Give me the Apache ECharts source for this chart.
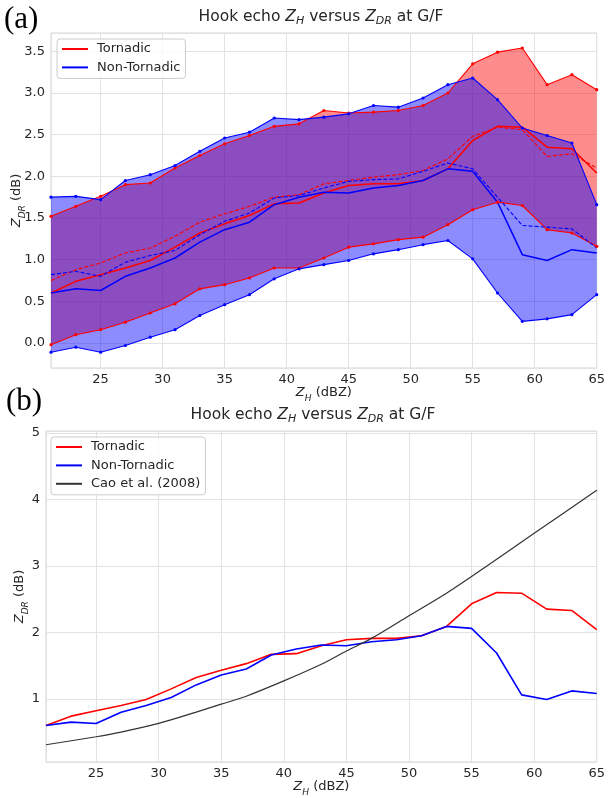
<!DOCTYPE html>
<html>
<head>
<meta charset="utf-8">
<script src="https://cdn.jsdelivr.net/npm/echarts@6/dist/echarts.min.js"></script>
<style>
  html, body { margin: 0; padding: 0; background: #fff; }
  #chart { width: 608px; height: 798px; }
</style>
</head>
<body>
<div id="chart"></div>
<script>
// Reflectivity bins (dBZ)
const zh = [21, 23, 25, 27, 29, 31, 33, 35, 37, 39, 41, 43, 45, 47, 49, 51, 53, 55, 57, 59, 61, 63, 65];

// Tornadic hook-echo ZDR statistics (dB)
const tornUpper  = [1.52, 1.64, 1.76, 1.90, 1.92, 2.10, 2.25, 2.39, 2.49, 2.60, 2.63, 2.79, 2.76, 2.77, 2.79, 2.85, 3.00, 3.35, 3.49, 3.54, 3.10, 3.22, 3.04];
const tornLower  = [-0.02, 0.10, 0.16, 0.25, 0.36, 0.47, 0.65, 0.70, 0.78, 0.90, 0.90, 1.02, 1.15, 1.19, 1.24, 1.27, 1.42, 1.60, 1.69, 1.65, 1.36, 1.32, 1.16];
const tornMedian = [0.60, 0.74, 0.82, 0.90, 0.99, 1.15, 1.32, 1.43, 1.53, 1.67, 1.68, 1.80, 1.89, 1.91, 1.91, 1.95, 2.09, 2.43, 2.60, 2.59, 2.35, 2.33, 2.04];
const tornMean   = [0.75, 0.88, 0.96, 1.08, 1.14, 1.28, 1.45, 1.55, 1.64, 1.75, 1.78, 1.91, 1.95, 1.99, 2.02, 2.07, 2.21, 2.48, 2.59, 2.56, 2.24, 2.27, 2.10];

// Non-tornadic hook-echo ZDR statistics (dB)
const nonUpper  = [1.75, 1.76, 1.72, 1.95, 2.02, 2.13, 2.30, 2.46, 2.53, 2.70, 2.68, 2.71, 2.75, 2.85, 2.83, 2.94, 3.10, 3.18, 2.92, 2.58, 2.49, 2.40, 1.66];
const nonLower  = [-0.11, -0.05, -0.11, -0.03, 0.07, 0.16, 0.33, 0.46, 0.58, 0.77, 0.89, 0.94, 0.99, 1.07, 1.12, 1.18, 1.23, 1.01, 0.60, 0.26, 0.29, 0.34, 0.58];
const nonMedian = [0.60, 0.65, 0.63, 0.80, 0.90, 1.02, 1.21, 1.36, 1.45, 1.66, 1.75, 1.81, 1.80, 1.86, 1.89, 1.95, 2.09, 2.06, 1.69, 1.06, 0.99, 1.12, 1.08];
const nonMean   = [0.82, 0.86, 0.80, 0.97, 1.05, 1.11, 1.30, 1.46, 1.56, 1.74, 1.77, 1.86, 1.94, 1.96, 1.97, 2.06, 2.16, 2.09, 1.75, 1.41, 1.39, 1.37, 1.14];

// Cao et al. (2008) ZH-ZDR relation
const caoZh  = [21, 25, 27, 30, 33, 35, 37, 40, 43, 45, 47, 50, 53, 55, 60, 65];
const caoZdr = [0.31, 0.43, 0.50, 0.63, 0.80, 0.92, 1.04, 1.27, 1.52, 1.72, 1.91, 2.25, 2.59, 2.84, 3.49, 4.14];

const FONT = 'DejaVu Sans';
const TXT = '#262626';
const RED = '#ff0000';
const BLUE = '#0000ff';

const pairs = (xs, ys) => xs.map((x, i) => [x, ys[i]]);

function richSet(size, subSize) {
  const base = { fontFamily: FONT, fontSize: size, lineHeight: 20, color: TXT, fontWeight: 'normal' };
  return {
    t: Object.assign({}, base),
    i: Object.assign({}, base, { fontStyle: 'italic' }),
    s: Object.assign({}, base, { fontSize: subSize, lineHeight: 8, fontStyle: 'italic', verticalAlign: 'bottom' })
  };
}
const titleText = '{t|Hook echo }{i|Z}{s|H}{t| versus }{i|Z}{s|DR}{t| at G/F}';
const xName = '{i|Z}{s|H}{t| (dBZ)}';
const yName = '{i|Z}{s|DR}{t| (dB)}';

// Shaded envelope between a lower and an upper bound
function band(name, lower, upper, fill) {
  return {
    type: 'custom', name: name, xAxisIndex: 0, yAxisIndex: 0, z: 1, silent: true,
    data: zh.map((x, i) => [x, lower[i], upper[i]]),
    encode: { x: 0, y: [1, 2] },
    renderItem: function (params, api) {
      if (params.dataIndex !== 0) return null;
      const pts = [];
      for (let i = 0; i < zh.length; i++) pts.push(api.coord([zh[i], upper[i]]));
      for (let i = zh.length - 1; i >= 0; i--) pts.push(api.coord([zh[i], lower[i]]));
      return { type: 'polygon', shape: { points: pts }, style: { fill: fill } };
    }
  };
}

function line(name, ys, color, opts) {
  opts = opts || {};
  return {
    type: 'line', name: name,
    xAxisIndex: opts.panel || 0, yAxisIndex: opts.panel || 0,
    data: pairs(opts.xs || zh, ys),
    z: 3,
    smooth: opts.smooth || false,
    symbol: opts.dots ? 'circle' : 'none',
    symbolSize: 3.2,
    showSymbol: !!opts.dots,
    itemStyle: { color: color },
    lineStyle: { color: color, width: opts.width || 1.4, type: opts.dashed ? [4, 2] : 'solid' },
    emphasis: { disabled: true }
  };
}

const halfFmt = v => (Math.abs(v * 2 - Math.round(v * 2)) < 1e-6 ? v.toFixed(1) : '');
const intFmt = v => (Math.abs(v - Math.round(v)) < 1e-6 ? String(Math.round(v)) : '');
const fiveFmt = v => (Math.abs(v / 5 - Math.round(v / 5)) < 1e-6 ? String(Math.round(v)) : '');

function xAxisCfg(gridIndex) {
  return {
    type: 'value', gridIndex: gridIndex, min: 21, max: 65,
    splitNumber: 8, minInterval: 5, maxInterval: 5,
    axisLine: { show: false }, axisTick: { show: false },
    axisLabel: { formatter: fiveFmt, color: TXT, fontFamily: FONT, fontSize: 13, margin: 5 },
    splitLine: { lineStyle: { color: '#e2e2e2', width: 1 } },
    name: xName, nameLocation: 'middle', nameGap: 15, nameMoveOverlap: false,
    nameTextStyle: { rich: richSet(13, 9) }
  };
}

function yAxisCfg(gridIndex, min, max, step, fmt, gap) {
  return {
    type: 'value', gridIndex: gridIndex, min: min, max: max,
    splitNumber: 8, minInterval: step, maxInterval: step,
    axisLine: { show: false }, axisTick: { show: false },
    axisLabel: { formatter: fmt, color: TXT, fontFamily: FONT, fontSize: 13, margin: 6 },
    splitLine: { lineStyle: { color: '#e2e2e2', width: 1 } },
    name: yName, nameLocation: 'middle', nameGap: gap, nameRotate: 90, nameMoveOverlap: false,
    nameTextStyle: { rich: richSet(13, 9) }
  };
}

function legendCfg(names, left, top) {
  return {
    data: names, left: left, top: top, orient: 'vertical',
    icon: 'rect', itemWidth: 26, itemHeight: 2, itemGap: 4.4, padding: [3, 5, 4, 5],
    borderColor: '#cccccc', borderWidth: 1, borderRadius: 3, backgroundColor: 'rgba(255,255,255,0.8)',
    textStyle: { fontFamily: FONT, fontSize: 13, color: TXT, lineHeight: 14, padding: [0, 0, 0, 4] }
  };
}

const panelLabel = { fontFamily: 'Liberation Serif', fontSize: 31, fontWeight: 'normal', color: '#000' };

const option = {
  animation: false,
  backgroundColor: '#ffffff',
  title: [
    { text: '(a)', left: 4, top: 4, padding: 0, textStyle: panelLabel },
    { text: titleText, left: 321, top: 7, padding: 0, textAlign: 'center',
      textStyle: { rich: richSet(15.5, 11) } },
    { text: '(b)', left: 6, top: 386, padding: 0, textStyle: panelLabel },
    { text: titleText, left: 313, top: 405, padding: 0, textAlign: 'center',
      textStyle: { rich: richSet(15.5, 11) } }
  ],
  legend: [
    legendCfg(['Tornadic', 'Non-Tornadic'], 57, 39),
    legendCfg(['Tornadic', 'Non-Tornadic', 'Cao et al. (2008)'], 51, 437)
  ],
  grid: [
    { left: 51, top: 33, width: 551, height: 335, show: true, borderColor: '#d4d4d4', borderWidth: 1, containLabel: false },
    { left: 46, top: 431, width: 551, height: 334, show: true, borderColor: '#d4d4d4', borderWidth: 1, containLabel: false }
  ],
  xAxis: [xAxisCfg(0), xAxisCfg(1)],
  yAxis: [
    yAxisCfg(0, -0.3, 3.72, 0.5, halfFmt, 24),
    yAxisCfg(1, 0.05, 5.03, 1, intFmt, 16)
  ],
  series: [
    // Panel (a): envelopes, then bound / median / mean curves
    band('Tornadic range', tornLower, tornUpper, 'rgba(255,0,0,0.45)'),
    band('Non-Tornadic range', nonLower, nonUpper, 'rgba(0,0,255,0.45)'),
    line('Tornadic upper', tornUpper, RED, { dots: true, width: 1.1 }),
    line('Tornadic lower', tornLower, RED, { dots: true, width: 1.1 }),
    line('Tornadic mean', tornMean, RED, { dashed: true, width: 1.1 }),
    line('Tornadic', tornMedian, RED, { width: 1.5 }),
    line('Non-Tornadic upper', nonUpper, BLUE, { dots: true, width: 1.1 }),
    line('Non-Tornadic lower', nonLower, BLUE, { dots: true, width: 1.1 }),
    line('Non-Tornadic mean', nonMean, BLUE, { dashed: true, width: 1.1 }),
    line('Non-Tornadic', nonMedian, BLUE, { width: 1.5 }),
    // Panel (b): medians against the Cao et al. (2008) relation
    line('Tornadic', tornMedian, RED, { panel: 1, width: 1.6 }),
    line('Non-Tornadic', nonMedian, BLUE, { panel: 1, width: 1.6 }),
    line('Cao et al. (2008)', caoZdr, '#333333', { panel: 1, width: 1.2, xs: caoZh, smooth: 0.3 })
  ]
};

const chart = echarts.init(document.getElementById('chart'), null, { renderer: 'canvas' });
chart.setOption(option);
</script>
</body>
</html>
